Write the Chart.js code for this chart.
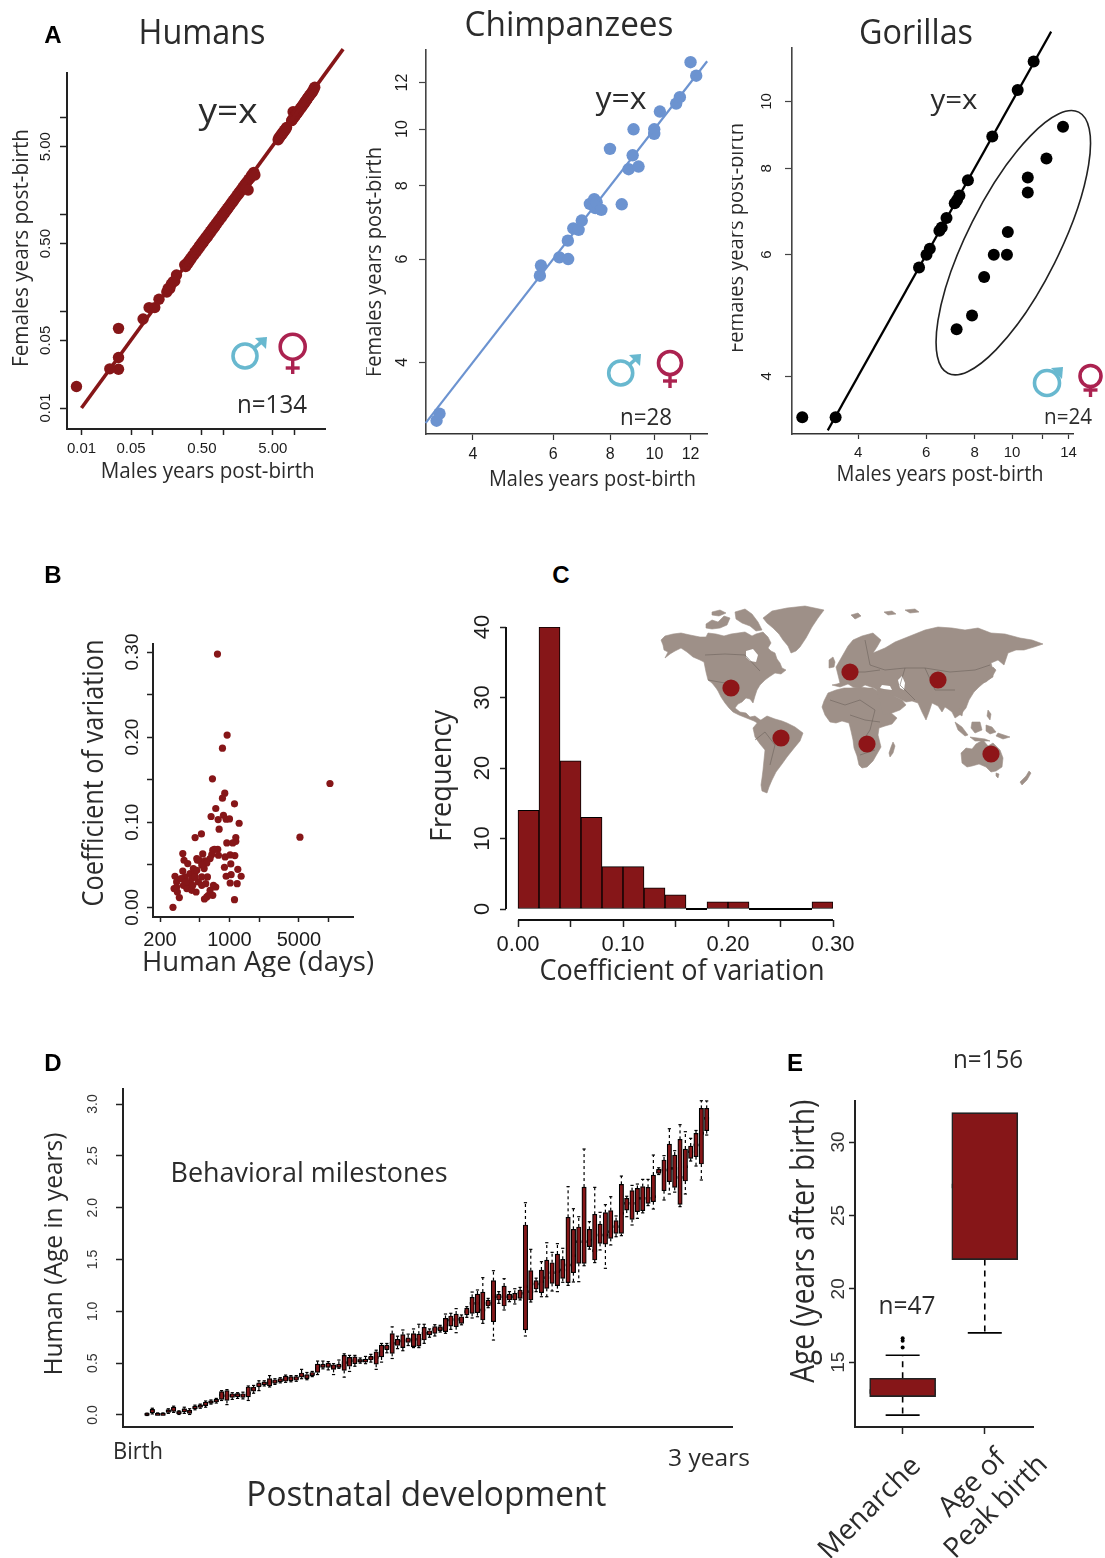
<!DOCTYPE html>
<html><head><meta charset="utf-8">
<style>
html,body{margin:0;padding:0;background:#fff}
#page{position:relative;width:1105px;height:1558px;overflow:hidden;background:#fff}
canvas{position:absolute;display:block}
svg{position:absolute;left:0;top:0}
.t{position:absolute;white-space:nowrap;line-height:1;color:#2b2b2b;font-family:"Open Sans",sans-serif}
</style>
<script src="https://cdn.jsdelivr.net/npm/chart.js@4"></script>
</head><body><div id="page">
<svg id="art" width="1105" height="1558" viewBox="0 0 1105 1558"></svg>
</div>
<script>
// ---------- DATA ----------
const humansMales=[.0085,.0333,.0333,.0333,.0251,
.074,.09,.108,.124,.16,.167,.176,.185,.196,.207,.219,.286,.295,.305,.315,.325,.335,.345,.356,.37,
.385,.4,.415,.43,.445,.46,.475,.49,.505,.52,.535,.55,.565,.58,.6,.62,.64,.66,.68,.7,
.72,.74,.76,.79,.82,.85,.88,.91,.94,.97,1.0,1.03,1.06,1.09,1.12,1.15,1.18,1.22,1.26,1.3,
1.34,1.38,1.42,1.47,1.52,1.57,1.62,1.67,1.72,1.78,1.84,1.9,1.96,2.02,2.08,2.15,2.24,2.3,2.4,2.5,
2.6,2.7,2.79,5.94,6.1,6.3,6.5,6.7,6.9,7.1,7.3,7.5,7.8,9.2,9.4,9.66,9.9,10.2,10.5,10.8,
11.1,11.4,11.8,12.2,12.6,13,13.4,13.8,14.2,14.6,15,15.5,16,16.6,17.2,17.8,18.4,19,19.5];
const humansFemales=[.0167,.0665,.0333,.0251,.0254,
.083,.109,.109,.133,.158,.172,.172,.19,.202,.205,.237,.30,.29,.31,.31,.33,.33,.35,.352,.375,
.38,.41,.41,.44,.44,.47,.47,.5,.5,.53,.53,.56,.56,.59,.59,.63,.63,.67,.67,.71,
.71,.75,.75,.8,.81,.86,.87,.92,.93,.98,.99,1.04,1.05,1.1,1.11,1.16,1.17,1.23,1.25,1.31,
1.33,1.39,1.41,1.48,1.51,1.58,1.61,1.68,1.71,1.79,1.83,1.91,1.95,2.03,2.07,2.16,1.79,2.31,2.38,2.52,
2.58,2.72,2.55,5.9,6.2,6.3,6.6,6.7,7.0,7.1,7.4,7.5,7.9,9.3,9.5,11.5,10,10.4,10.6,11,
11.2,11.6,11.9,12.4,12.7,13.2,13.6,14,14.4,14.9,15.3,15.9,16.4,17,17.6,18.2,18.9,19.8,20.6];
const humansLineX=[.01,49], humansLineY=[.01,51];
const chimpMales=[3.33,3.38,5.61,5.64,6.19,6.47,6.46,6.64,6.82,6.93,7.22,7.38,7.42,7.47,7.65,8.48,7.99,8.78,9.23,8.96,9.0,9.99,9.99,10.28,11.16,11.37,12.0,12.35];
const chimpFemales=[3.18,3.27,5.62,5.85,6.04,6.0,6.45,6.77,6.73,6.98,7.45,7.59,7.33,7.5,7.28,7.44,9.25,8.54,8.63,9.02,9.99,9.99,9.81,10.71,11.05,11.33,13.0,12.33];
const chimpLine=[3.15,13.05];
const gorillaMales=[2.87,3.5,5.75,6.01,6.13,6.49,6.58,6.77,7.11,7.21,7.31,7.69,8.89,10.34,11.37,13.54,12.27,10.98,10.98,9.75,8.97,9.7,8.47,7.88,7.19];
const gorillaFemales=[3.49,3.49,5.75,6.0,6.12,6.5,6.57,6.78,7.12,7.2,7.31,7.69,8.9,10.39,11.42,9.19,8.27,7.76,7.38,6.47,6.0,6.0,5.57,4.9,4.68];
const gorillaLine=[3.34,12.62];
const ageDays=[270,757,947,850,674,10260,5117,897,850,1123,728,653,769,870,926,1000,1251,787,522,451,1158,1158,1080,940,339,538,679,762,706,664,638,774,904,1016,1132,1031,890,1213,1311,1039,926,1016,1195,1123,349,380,469,499,569,591,556,339,283,294,277,313,299,357,401,433,451,417,386,344,372,417,461,526,577,600,526,487,451,690,728,638,614,679,560,591,326,294,469,427,366,476,526];
const cvValues=[0,.2976,.2024,.187,.151,.1455,.0824,.1341,.1282,.1216,.1161,.1067,.1031,.1082,.1035,.1039,.0988,.0918,.0863,.082,.082,.0776,.0757,.0757,.0631,.0627,.0671,.0682,.0682,.062,.0573,.0612,.0592,.0616,.0608,.051,.0471,.0447,.0365,.0384,.0365,.0286,.0278,.009,.0553,.0514,.0573,.0553,.0545,.0522,.0455,.0427,.0365,.0298,.022,.0114,.018,.0357,.0396,.0455,.0416,.0337,.0278,.0259,.022,.02,.018,.0259,.0278,.0357,.0357,.0298,.0357,.0259,.0239,.02,.0141,.0141,.0098,.0122,.0337,.0239,.0435,.0259,.0298,.0553,.0498];
const histBinCentres=[.01,.03,.05,.07,.09,.11,.13,.15,.17,.19,.21,.23,.25,.27,.29];
const histCounts=[14,40,21,13,6,6,3,2,0,1,1,0,0,0,1];
const milestoneQ1=[0,.02,-.002,-.002,.025,.035,.01,.03,.015,.06,.075,.09,.115,.125,.15,.14,.17,.175,.17,.175,.23,.27,.29,.28,.305,.32,.325,.33,.335,.365,.35,.38,.41,.46,.46,.44,.46,.43,.47,.495,.51,.51,.53,.49,.56,.63,.595,.67,.65,.70,.66,.665,
.723,.772,.788,.813,.804,.858,.852,.884,.965,.981,.987,.916,1.051,.90,1.109,1.051,1.109,1.109,1.125,.82,1.109,1.215,1.18,1.222,1.27,1.248,1.318,1.277,1.373,1.463,1.463,1.624,1.495,1.656,1.649,1.704,1.752,1.752,1.977,1.887,1.961,1.971,2.042,2.058,2.331,2.164,2.251,2.196,2.032,2.257,2.476,2.492,2.421,2.743];
const milestoneQ3=[.012,.055,.015,.015,.05,.075,.032,.06,.045,.085,.095,.125,.135,.15,.225,.235,.205,.205,.205,.27,.27,.31,.32,.35,.34,.35,.375,.37,.37,.405,.39,.41,.49,.49,.50,.485,.49,.575,.555,.56,.535,.54,.565,.61,.675,.675,.785,.73,.775,.745,.785,.78,
.846,.813,.852,.852,.932,.955,.974,.948,1.029,1.135,1.167,1.186,1.109,1.296,1.167,1.244,1.167,1.174,1.206,1.833,1.392,1.296,1.399,1.495,1.469,1.553,1.502,1.907,1.791,1.814,2.199,1.791,1.936,1.842,1.952,1.971,1.875,2.225,2.09,2.164,2.186,2.203,2.196,2.315,2.37,2.46,2.614,2.508,2.659,2.566,2.595,2.717,2.958,2.958];
const milestoneMedian=[.006,.039,.006,.006,.039,.061,.023,.048,.032,.071,.087,.109,.125,.138,.193,.186,.19,.196,.19,.209,.248,.289,.305,.312,.322,.334,.35,.354,.354,.386,.373,.395,.45,.473,.482,.466,.473,.505,.514,.524,.524,.524,.547,.556,.611,.653,.691,.701,.714,.723,.723,.73,
.788,.791,.826,.833,.868,.916,.923,.916,.997,1.077,1.077,1.013,1.077,1.141,1.141,1.141,1.141,1.141,1.174,1.238,1.19,1.264,1.286,1.325,1.373,1.383,1.399,1.447,1.537,1.672,1.672,1.688,1.585,1.736,1.736,1.768,1.817,1.945,2.042,2.042,2.09,2.09,2.09,2.106,2.347,2.363,2.379,2.379,2.292,2.395,2.54,2.605,2.717,2.862];
const milestoneLow=[-.005,.01,-.005,-.005,.015,.025,.005,.015,.005,.05,.065,.075,.105,.115,.14,.10,.15,.16,.155,.14,.21,.235,.28,.27,.295,.31,.315,.32,.325,.35,.34,.37,.39,.445,.435,.39,.45,.365,.42,.47,.5,.495,.51,.44,.51,.6,.545,.64,.62,.67,.65,.65,
.691,.75,.762,.80,.788,.826,.794,.87,.942,.936,.948,.884,1.035,.723,1.077,1.013,1.093,1.071,1.11,.762,1.09,1.19,1.141,1.141,1.196,1.19,1.28,1.25,1.283,1.286,1.44,1.6,1.47,1.592,1.415,1.64,1.72,1.73,1.913,1.833,1.897,1.95,2.02,1.987,2.32,2.074,2.132,2.15,2.01,2.132,2.45,2.402,2.267,2.701];
const milestoneHigh=[.018,.065,.02,.02,.06,.085,.04,.075,.06,.095,.105,.135,.145,.16,.235,.245,.215,.215,.22,.28,.285,.33,.33,.38,.35,.36,.385,.38,.38,.44,.41,.42,.52,.52,.515,.495,.53,.59,.575,.575,.55,.565,.585,.625,.69,.69,.85,.76,.82,.78,.83,.875,
.875,.83,.871,.865,.974,.981,1.026,.965,1.045,1.186,1.206,1.325,1.125,1.392,1.19,1.315,1.19,1.218,1.231,2.048,1.598,1.32,1.479,1.662,1.569,1.653,1.608,2.203,1.99,1.913,2.566,1.865,2.196,1.955,2.029,2.106,1.92,2.305,2.11,2.215,2.228,2.273,2.273,2.508,2.385,2.502,2.762,2.55,2.801,2.733,2.669,2.745,3.032,3.03];
const eCategories=["Menarche",["Age of","Peak birth"]];
const eQ1=[12.66,21.99], eQ3=[13.91,32.0], eMedian=[13.01,27.0], eLow=[11.4,17.0], eHigh=[15.48,32.0];
const eOutliers=[16.0,16.46,16.63];
const aTicks=[.01,.05,.1,.5,1,5,10], aTickLabels={.01:"0.01",.05:"0.05",.5:"0.50",5:"5.00"};
const chimpTicks=[4,6,8,10,12], gorillaXTicks=[4,6,8,10,12,14], gorillaXLabels={4:"4",6:"6",8:"8",10:"10",14:"14"}, gorillaYTicks=[4,6,8,10];
const bXTicks=[200,500,1000,2000,5000,10000], bXLabels={200:"200",1000:"1000",5000:"5000"};
const bYTicks=[0,.05,.1,.15,.2,.25,.3], bYLabels={0:"0.00",.1:"0.10",.2:"0.20",.3:"0.30"};
const cXTicks=[0,.05,.1,.15,.2,.25,.3], cXLabels={0:"0.00",.1:"0.10",.2:"0.20",.3:"0.30"}, cYTicks=[0,10,20,30,40];
const dYTicks=[0,.5,1,1.5,2,2.5,3];
const eYTicks=[15,20,25,30];

// ---------- HELPERS ----------
const RED="#861618", INK="#2b2b2b", SANS='"Open Sans"', ARIAL='"Liberation Sans"';
const page=document.getElementById("page");
const mctx=document.createElement("canvas").getContext("2d");
function text(s,cx,cy,size,w,o={}){
  const d=document.createElement("div");d.className="t";d.textContent=s;
  const fam=o.family||SANS, wt=o.weight||400;
  d.style.fontFamily=fam;d.style.fontSize=size+"px";d.style.fontWeight=wt;
  if(o.color)d.style.color=o.color;
  mctx.font=wt+" "+size+"px "+fam;
  const sx=w?w/mctx.measureText(s).width:1;
  d.style.left=cx+"px";d.style.top=cy+"px";
  d.style.transform="translate(-50%,-50%) scaleX("+sx.toFixed(3)+")";
  page.appendChild(d);
}
function ticksOf(vals){return s=>{s.ticks=vals.map(v=>({value:v}));};}
function fit(prop,v){return s=>{s[prop]=v;s.paddingLeft=s.paddingRight=s.paddingTop=s.paddingBottom=0;};}
function axis(o){
  return Object.assign({
    type:o.type||"linear",min:o.min,max:o.max,offset:false,
    afterBuildTicks:o.vals?ticksOf(o.vals):undefined,
    afterFit:fit(o.isY?"width":"height",o.size),
    border:{display:o.border!==false,color:o.color||"#222",width:o.bw||2},
    grid:{display:true,offset:false,drawOnChartArea:false,drawTicks:o.vals?true:false,tickLength:o.tl||6,tickColor:o.color||"#222",tickWidth:o.tw||1.5},
    ticks:{display:!!o.vals,autoSkip:false,padding:o.pad||4,color:o.tc||"#1c1c1c",
      font:{family:o.family||ARIAL,size:o.fs||15},
      minRotation:o.rot||0,maxRotation:o.rot||0,
      callback:o.labels?(v=>{const l=o.labels[v];return l===undefined?"":l;}):(v=>String(v))},
    title:{display:!!o.title,text:o.title||""}
  },{});
}
// page-coordinate placement of axis titles; centred rotated y tick labels
function rStyle(ox,oy,at,tw){return {id:"rStyle",beforeDraw(chart){
  Object.values(chart.scales).forEach(s=>{
    const t=at&&at[s.id];
    if(t){s.drawTitle=function(){
      const c=chart.ctx,o=s.options.title;c.save();c.translate(t.cx-ox,t.cy-oy);
      if(s.axis==="y")c.rotate(-Math.PI/2);
      c.font=t.size+"px "+SANS;
      const m=c.measureText(o.text).width;c.scale(t.w/m,1);
      c.textAlign="center";c.textBaseline="middle";c.fillStyle=INK;c.fillText(o.text,0,0);c.restore();};}
    if(s.axis==="y"&&s.options.ticks.display&&s.options.ticks.minRotation===90){
      s.getLabelItems(chart.chartArea).forEach(i=>{i.options.textAlign="center";i.options.textBaseline="bottom";});
    }
    if(tw&&tw[s.id]){tw[s.id](s);}
  });
}};}
function mount(area,pad,config,at,extra){
  const [l,t,r,b]=area,[W,T,R,H]=pad;
  const cv=document.createElement("canvas");
  const ox=l-W,oy=t-T,cw=Math.round(W+(r-l)+R),ch=Math.round(T+(b-t)+H);
  cv.width=cw;cv.height=ch;cv.style.left=ox+"px";cv.style.top=oy+"px";cv.style.width=cw+"px";cv.style.height=ch+"px";
  page.appendChild(cv);
  config.options=Object.assign({responsive:false,animation:false,events:[],
    layout:{padding:{left:0,top:T,right:R,bottom:0}},
    plugins:{legend:{display:false},tooltip:{enabled:false},title:{display:false}}},config.options);
  config.plugins=[rStyle(ox,oy,at,extra)].concat(config.plugins||[]);
  return new Chart(cv.getContext("2d"),config);
}
const pts=(xs,ys)=>xs.map((x,i)=>({x,y:ys[i]}));
function spine(color,width){return {id:"spine",afterDraw(chart){
  const c=chart.ctx,{x,y}=chart.scales;c.save();c.strokeStyle=color;c.lineWidth=width;c.beginPath();
  const tx=x.ticks,ty=y.ticks,ca=chart.chartArea;
  c.moveTo(x.getPixelForValue(tx[0].value),ca.bottom);c.lineTo(x.getPixelForValue(tx[tx.length-1].value),ca.bottom);
  c.moveTo(ca.left,y.getPixelForValue(ty[0].value));c.lineTo(ca.left,y.getPixelForValue(ty[ty.length-1].value));
  c.stroke();c.restore();}};}
function whiskers(xs,q1,q3,lo,hi,capHalf,dash,lw){return {id:"whiskers",beforeDatasetsDraw(chart){
  const c=chart.ctx,{x,y}=chart.scales;c.save();c.strokeStyle="#000";c.lineWidth=lw;
  xs.forEach((v,i)=>{
    const px=x.getPixelForValue(v);
    [[q3[i],hi[i]],[q1[i],lo[i]]].forEach(([a,bv])=>{
      const pa=y.getPixelForValue(a),pb=y.getPixelForValue(bv);
      if(Math.abs(pa-pb)<.5)return;
      c.setLineDash(dash);c.beginPath();c.moveTo(px,pa);c.lineTo(px,pb);c.stroke();
      c.setLineDash([]);c.beginPath();c.moveTo(px-capHalf,pb);c.lineTo(px+capHalf,pb);c.stroke();
    });
  });c.restore();}};}

// ---------- DECORATION: sex symbols, world map, ellipse ----------
const NS="http://www.w3.org/2000/svg", art=document.getElementById("art");
function el(n,a){const e=document.createElementNS(NS,n);for(const k in a)e.setAttribute(k,a[k]);art.appendChild(e);return e;}
function male(cx,cy,r,tx,ty){
  el("circle",{cx,cy,r,fill:"none",stroke:"#68b8cf","stroke-width":3.6});
  const a=Math.atan2(ty-cy,tx-cx),sx=cx+r*Math.cos(a),sy=cy+r*Math.sin(a);
  el("line",{x1:sx,y1:sy,x2:tx-2,y2:ty+2,stroke:"#68b8cf","stroke-width":3.6});
  el("polygon",{points:`${tx},${ty} ${tx-12},${ty+1} ${tx-1},${ty+12}`,fill:"#68b8cf"});
}
function female(cx,cy,r,end,bar){
  el("circle",{cx,cy,r,fill:"none",stroke:"#ab2250","stroke-width":3.6});
  el("line",{x1:cx,y1:cy+r,x2:cx,y2:end,stroke:"#ab2250","stroke-width":3.4});
  el("line",{x1:cx-7,y1:bar,x2:cx+7,y2:bar,stroke:"#ab2250","stroke-width":3.4});
}
male(245,356,12,267,337);female(292.7,346.7,12.5,374,368);
male(620.7,373,12,641,354);female(670,363,11.5,388,381);
male(1047,383,12.5,1063,367);female(1090.5,376,10.5,397,390);
el("ellipse",{cx:1013.3,cy:242.7,rx:146,ry:46,fill:"none",stroke:"#222","stroke-width":1.6,transform:"rotate(-63.4 1013.3 242.7)"});
const MAP="#9e9088";
const land=[
"663,645 661,640 665,636 673,634 681,633 690,635 700,637 706,637 708,633 716,634 724,636 731,634 738,633 745,632 752,636 756,634 763,632 768,637 771,643 768,648 771,651 775,653 777,659 780,663 782,668 786,670 781,674 775,673 769,677 765,680 760,685 757,690 755,696 753,703 750,699 746,698 742,702 738,704 735,708 740,712 746,713 750,717 755,716 759,719 762,721 759,724 754,721 749,719 744,717 739,715 733,712 729,708 725,703 721,697 718,691 716,688 712,683 708,680 706,672 704,662 700,660 693,657 687,652 681,648 675,651 670,654 665,658 668,652 664,650",
"706,624 712,620 718,622 724,616 730,618 727,625 720,628 712,629 706,628",
"735,612 745,609 752,614 758,622 762,630 756,631 750,626 742,623 736,619",
"712,612 720,610 726,613 719,616 712,615",
"763,618 772,611 787,608 805,606 824,610 818,618 812,627 806,638 800,647 796,651 791,653 788,646 783,640 779,634 773,628 767,623",
"753,728 758,722 767,716 775,719 782,721 787,723 795,727 803,733 800,741 795,747 787,757 782,764 776,772 772,780 769,787 767,793 762,791 761,785 762,778 763,770 764,760 765,750 760,744 755,737",
"822,707 824,701 828,693 836,690 844,688 851,688 860,687 868,688 873,688 879,692 881,697 885,705 890,712 897,718 892,724 885,726 879,728 878,735 881,747 877,754 873,761 867,767 862,768 859,765 857,756 854,748 853,740 851,731 849,723 842,721 836,723 830,722 825,715",
"832,685 837,684 840,683 838,675 836,667 840,660 844,653 848,646 853,640 862,636 873,633 881,640 877,647 873,653 885,648 895,642 910,636 925,630 938,627 952,628 965,630 978,628 991,633 1005,634 1020,638 1032,640 1043,644 1034,647 1024,650 1016,650 1008,653 1006,659 1004,665 998,660 991,663 993,670 993,677 986,681 979,687 974,692 969,700 966,708 961,714 955,718 952,712 948,709 945,707 942,712 938,706 932,703 929,712 926,720 922,712 918,703 912,701 906,702 902,700 896,697 888,695 881,693 874,688 865,685 860,688 853,687 848,684 840,687",
"877,690 886,692 902,700 906,705 900,710 892,713 883,715 880,703",
"961,753 966,748 972,749 976,744 983,740 988,746 993,743 1000,750 1003,758 1002,767 996,771 991,772 986,767 979,764 972,766 967,767 962,763",
"829,660 833,657 835,662 834,667 829,668",
"851,615 858,613 861,616 855,619",
"987,672 993,667 996,670 992,677 986,682 982,683",
"955,722 962,727 968,735 965,736 958,730",
"970,737 985,739 990,741 975,741",
"972,722 980,722 982,730 975,733 971,728",
"986,725 992,727 996,732 990,734 986,731",
"998,733 1010,737 1003,739 996,736",
"959,708 963,710 962,716 959,714",
"988,710 991,714 990,720 987,716",
"889,753 891,747 893,742 895,746 893,753 890,757",
"1020,782 1026,776 1029,771 1031,773 1027,780 1022,785",
"996,773 999,774 998,778 996,776",
"884,612 892,611 896,614 888,615",
"905,610 915,609 919,612 910,613"
];
land.forEach(p=>el("polygon",{points:p,fill:MAP,stroke:MAP,"stroke-width":.6}));
["746,651 753,649 758,655 756,662 750,661 746,657","880,688 884,689 892,690 890,686 882,685","898,680 902,676 905,683 904,690 900,688"].forEach(p=>el("polygon",{points:p,fill:"#fff"}));
["705,655 725,654 745,655 760,671","708,680 725,683 735,690","755,740 765,732 775,745 770,765","830,700 845,705 860,700 875,710 870,730 860,745","850,715 865,720 880,722","865,640 870,665 885,670 905,668 925,668 950,672 975,670 990,665","925,668 935,690 955,690","905,668 900,685 915,700","850,672 865,672 880,670","860,755 875,750"].forEach(p=>el("polyline",{points:p,fill:"none",stroke:"#6d635c","stroke-width":.6}));
[[731,688],[850,672],[938,680],[781,738],[867,744],[991,754]].forEach(([cx,cy])=>el("ellipse",{cx,cy,rx:8.6,ry:8.6,fill:"#8e1518"}));

// ---------- A: HUMANS ----------
mount([67,73,325,429],[60,40,30,60],{type:"scatter",data:{datasets:[
  {data:pts(humansLineX,humansLineY),showLine:true,pointRadius:0,borderColor:RED,borderWidth:3.6,clip:false},
  {data:pts(humansMales,humansFemales),pointRadius:5.7,backgroundColor:RED,borderWidth:0,clip:false}]},
 options:{scales:{
  x:axis({type:"logarithmic",min:.00625,max:27.2,vals:aTicks,labels:aTickLabels,size:60,tl:6,pad:5,fs:15,title:"Males years post-birth"}),
  y:axis({type:"logarithmic",min:.00607,max:28.9,vals:aTicks,labels:aTickLabels,size:60,isY:true,tl:7,pad:7,fs:15,rot:90,title:"Females years post-birth"})}}},
 {x:{cx:207.7,cy:472,w:214,size:21},y:{cx:22,cy:248,w:238,size:21}});

// ---------- A: CHIMPANZEES ----------
mount([426.3,50,707.7,434],[60,30,20,60],{type:"scatter",data:{datasets:[
  {data:pts(chimpLine,chimpLine),showLine:true,pointRadius:0,borderColor:"#6c93d0",borderWidth:2.2,clip:false},
  {data:pts(chimpMales,chimpFemales),pointRadius:6.2,backgroundColor:"#6c93d0",borderWidth:0,clip:false}]},
 options:{scales:{
  x:axis({type:"logarithmic",min:3.157,max:13.04,vals:chimpTicks,size:60,color:"#333",bw:1.6,tw:1.2,tl:6,pad:5,fs:16,title:"Males years post-birth"}),
  y:axis({type:"logarithmic",min:3.018,max:13.64,vals:chimpTicks,size:60,isY:true,color:"#444",bw:1.6,tw:1.2,tl:7,pad:8,fs:16,rot:90,title:"Females years post-birth"})}}},
 {x:{cx:592.7,cy:480,w:207,size:21},y:{cx:375,cy:262,w:230,size:21}});

// ---------- A: GORILLAS ----------
mount([791.7,48,1072.7,434],[60,30,32,60],{type:"scatter",data:{datasets:[
  {data:pts(gorillaLine,gorillaLine),showLine:true,pointRadius:0,borderColor:"#000",borderWidth:2.2,clip:false},
  {data:pts(gorillaMales,gorillaFemales),pointRadius:6,backgroundColor:"#000",borderWidth:0,clip:false}]},
 options:{scales:{
  x:axis({type:"logarithmic",min:2.70,max:14.37,vals:gorillaXTicks,labels:gorillaXLabels,size:60,color:"#333",bw:1.6,tw:1.2,tl:5,pad:5,fs:15,title:"Males years post-birth"}),
  y:axis({type:"logarithmic",min:3.33,max:11.95,vals:gorillaYTicks,size:60,isY:true,color:"#444",bw:1.6,tw:1.2,tl:7,pad:11,fs:15,rot:90,title:"Females years post-birth"})}}},
 {x:{cx:939.7,cy:475,w:207,size:21},y:{cx:737,cy:238,w:230,size:21}});

// ---------- B ----------
mount([153,644,352.7,917],[80,10,20,60],{type:"scatter",data:{datasets:[
  {data:pts(ageDays,cvValues),pointRadius:3.6,backgroundColor:RED,borderWidth:0,clip:false}]},
 options:{scales:{
  x:axis({type:"logarithmic",min:170,max:17500,vals:bXTicks,labels:bXLabels,size:60,tl:5,pad:6,fs:20,title:"Human Age (days)"}),
  y:axis({min:-.01137,max:.3094,vals:bYTicks,labels:bYLabels,size:80,isY:true,tl:6,pad:5,fs:19,rot:90,title:"Coefficient of variation"})}}},
 {x:{cx:258,cy:963,w:232,size:28},y:{cx:95,cy:773,w:267,size:29}});

// ---------- C ----------
mount([506,627,833,920],[80,20,40,70],{type:"bar",data:{datasets:[
  {data:pts(histBinCentres,histCounts),backgroundColor:"#861618",borderColor:"#000",borderWidth:1,borderSkipped:false,barPercentage:1,categoryPercentage:1},
  {type:"line",data:[{x:.16,y:0},{x:.18,y:0},{x:null,y:null},{x:.22,y:0},{x:.28,y:0}],borderColor:"#000",borderWidth:2,pointRadius:0,spanGaps:false}]},
 options:{scales:{
  x:axis({min:-.01143,max:.30,vals:cXTicks,labels:cXLabels,size:70,border:false,tl:7,pad:5,fs:22,title:"Coefficient of variation"}),
  y:axis({min:-1.56,max:40,vals:cYTicks,size:80,isY:true,border:false,tl:6,pad:6,fs:22,rot:90,title:"Frequency"})}},
 plugins:[spine("#111",2)]},
 {x:{cx:682,cy:972,w:285,size:29},y:{cx:443,cy:776,w:132,size:29}});

// ---------- D ----------
const milestoneIndex=milestoneMedian.map((_,i)=>i);
mount([122.7,1089,732,1427],[80,20,20,90],{type:"bar",data:{datasets:[
  {data:milestoneIndex.map(i=>({x:i,y:[milestoneQ1[i],milestoneQ3[i]]})),backgroundColor:"#861618",borderColor:"#000",borderWidth:1.2,borderSkipped:false,barThickness:4.4},
  {type:"scatter",data:pts(milestoneIndex,milestoneMedian),pointStyle:"line",pointRadius:2.4,borderColor:"#000",borderWidth:2.6,backgroundColor:"#000"}]},
 options:{scales:{
  x:axis({min:-4.5,max:109.75,size:90,title:"Postnatal development"}),
  y:axis({min:-.116,max:3.145,vals:dYTicks,labels:{0:"0.0",.5:"0.5",1:"1.0",1.5:"1.5",2:"2.0",2.5:"2.5",3:"3.0"},size:80,isY:true,tl:7,pad:16,fs:14,rot:90,tc:"#333",title:"Human (Age in years)"})}},
 plugins:[whiskers(milestoneIndex,milestoneQ1,milestoneQ3,milestoneLow,milestoneHigh,1.6,[3,3],1.2)]},
 {x:{cx:426,cy:1496,w:360,size:35},y:{cx:55,cy:1254,w:243,size:25}});

// ---------- E ----------
const eX=[1,2];
mount([855,1072.7,1033.3,1427],[80,10,60,131],{type:"bar",data:{datasets:[
  {data:eX.map((x,i)=>({x,y:[eQ1[i],eQ3[i]]})),backgroundColor:"#861618",borderColor:"#222",borderWidth:1.6,borderSkipped:false,barThickness:66},
  {type:"scatter",data:pts(eX,eMedian),pointStyle:"line",pointRadius:33,borderColor:"#000",borderWidth:4.6,backgroundColor:"#000"},
  {type:"scatter",data:eOutliers.map(y=>({x:1,y})),pointRadius:2,backgroundColor:"#000",borderWidth:0}]},
 options:{scales:{
  x:axis({min:.42,max:2.587,vals:eX,labels:{1:eCategories[0],2:eCategories[1]},size:131,tl:7,pad:5,fs:28,family:SANS,rot:45,tc:INK}),
  y:axis({min:10.59,max:32.82,vals:eYTicks,size:80,isY:true,tl:6,pad:1,fs:19,rot:90,tc:"#333",title:"Age (years after birth)"})}},
 plugins:[whiskers(eX,eQ1,eQ3,eLow,eHigh,17,[6,5],1.6)]},
 {y:{cx:805,cy:1241,w:283,size:32}},
 {x:s=>{const pos=[[870,1508],[984.5,1495]];
   s.getLabelItems(s.chart.chartArea).forEach((i,k)=>{
     const n=Array.isArray(i.label)?i.label.length:1;
     i.options.textAlign="center";i.options.textBaseline="middle";
     i.options.translation=[pos[k][0]-(855-80),pos[k][1]-(1072.7-10)];
     i.textOffset=-(n-1)*i.font.lineHeight/2;
   });}});

// ---------- TEXT ----------
[["A",53,35],["B",53,575],["C",561,575],["D",53,1063],["E",795,1063]].forEach(([s,x,y])=>text(s,x,y,24,0,{family:ARIAL,weight:700,color:"#000"}));
text("Humans",201.5,31,34,127);text("Chimpanzees",569,23,34,209);text("Gorillas",915.7,31,34,114);
text("y=x",228,110,34,59);text("y=x",620.5,97,31,51);text("y=x",954,98,28,47);
text("n=134",271.6,403,25,70);text("n=28",646,416,24,52);text("n=24",1068,416,21,48);
text("Behavioral milestones",309,1171,28,277);
text("Birth",138,1450,24,50);text("3 years",709,1457,24,82);
text("n=47",906.5,1304,25,57);text("n=156",987.5,1058,25,70);
</script></body></html>
